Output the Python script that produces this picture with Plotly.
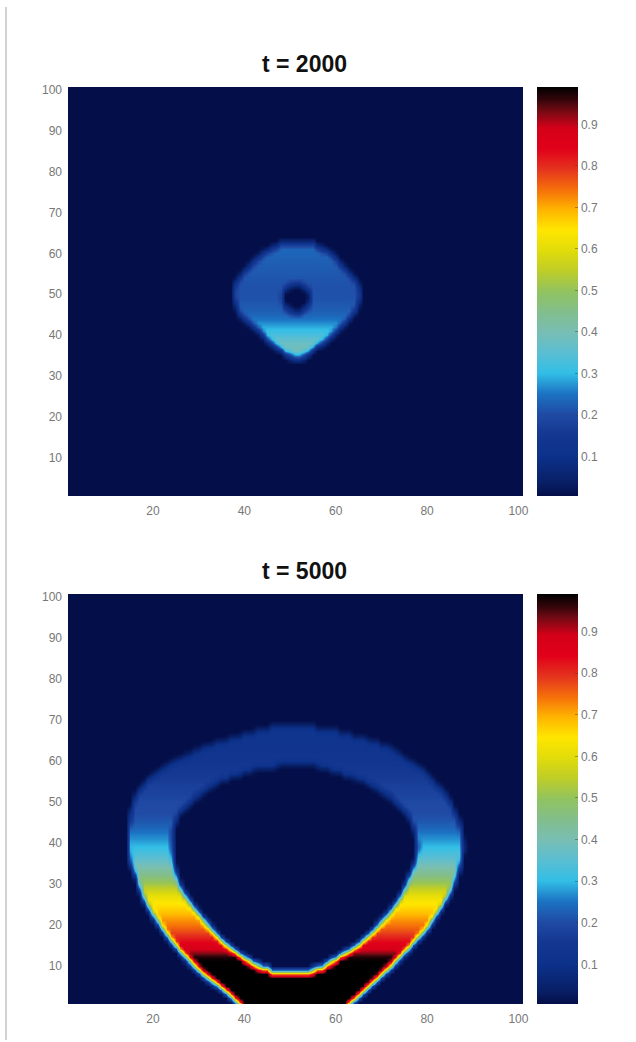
import plotly.graph_objects as go

# Shared axis ticks and colour range
x_ticks = [20, 40, 60, 80, 100]
y_ticks = [10, 20, 30, 40, 50, 60, 70, 80, 90, 100]
cbar_ticks = [0.1, 0.2, 0.3, 0.4, 0.5, 0.6, 0.7, 0.8, 0.9]
z_min = 0.005
z_max = 0.99
titles = ["t = 2000", "t = 5000"]

# t = 2000: rows y = 35..62
p1_rows = list(range(35, 63))
p1_left = [50.0, 48.5, 47.2, 46.0, 44.9, 44.1, 43.3, 42.3, 41.2, 40.1, 39.1, 38.5, 38.2, 37.9, 37.7,
           37.6, 37.7, 37.8, 38.1, 38.8, 39.4, 40.3, 41.2, 42.1, 43.1, 44.1, 45.8, 47.4]
p1_right = [53.0, 54.4, 55.4, 56.9, 58.0, 59.1, 60.0, 60.9, 61.9, 62.7, 63.5, 64.2, 64.6, 64.9, 65.1,
            65.3, 65.1, 64.9, 64.6, 63.8, 63.1, 62.2, 61.3, 60.4, 59.7, 58.7, 57.0, 55.5]
p1_value = [0.37, 0.38, 0.39, 0.38, 0.36, 0.33, 0.31, 0.29, 0.27, 0.25, 0.235, 0.225, 0.22, 0.215, 0.21,
            0.21, 0.21, 0.21, 0.21, 0.215, 0.22, 0.22, 0.225, 0.225, 0.23, 0.235, 0.235, 0.23]
p1_hole_rows = [46, 47, 48, 49, 50, 51, 52]
p1_hole_left = [50.0, 48.8, 48.4, 48.3, 48.3, 48.6, 49.8]
p1_hole_right = [52.6, 53.8, 54.3, 54.4, 54.4, 54.0, 52.8]

# t = 5000: rows y = 0..68
p2_rows = list(range(0, 69))
p2_left = [39.2, 38.3, 37.4, 36.5, 35.5, 34.4, 33.2, 32.0, 30.9, 29.9, 29.0, 28.0, 27.2, 26.3,
           25.5, 24.7, 24.0, 23.3, 22.6, 22.0, 21.4, 20.7, 20.1, 19.6, 19.1, 18.6, 18.1, 17.7,
           17.4, 17.1, 16.7, 16.5, 16.1, 15.8, 15.4, 15.0, 14.9, 14.7, 14.6, 14.5, 14.5, 14.5,
           14.5, 14.5, 14.6, 14.8, 14.9, 15.0, 15.2, 15.5, 15.7, 15.9, 16.5, 17.2, 17.9, 18.5,
           19.6, 20.8, 22.0, 23.2, 24.9, 26.9, 28.8, 30.8, 33.3, 36.3, 39.3, 42.3, 45.5]
p2_right = [62.5, 63.5, 64.5, 65.4, 66.4, 67.3, 68.3, 69.3, 70.2, 71.1, 72.1, 73.0, 73.9, 74.8,
            75.8, 76.6, 77.4, 78.2, 79.0, 79.8, 80.5, 81.1, 81.7, 82.4, 82.9, 83.5, 84.0, 84.6,
            85.0, 85.4, 85.8, 86.1, 86.4, 86.7, 86.9, 87.2, 87.4, 87.5, 87.7, 87.7, 87.7, 87.6,
            87.5, 87.4, 87.2, 86.9, 86.6, 86.2, 85.8, 85.4, 85.0, 84.4, 83.8, 83.0, 82.0, 81.2,
            80.4, 79.6, 78.7, 77.3, 75.8, 74.6, 73.2, 71.9, 69.5, 66.8, 63.5, 60.5, 55.5]
p2_value = [0.99, 0.99, 0.99, 0.99, 0.99, 0.99, 0.99, 0.99, 0.99, 0.99, 0.99, 0.99, 0.99, 0.92,
            0.88, 0.86, 0.83, 0.81, 0.78, 0.76, 0.74, 0.72, 0.70, 0.68, 0.66, 0.65, 0.63, 0.61,
            0.58, 0.55, 0.52, 0.48, 0.45, 0.43, 0.41, 0.38, 0.36, 0.34, 0.32, 0.30, 0.29, 0.27,
            0.26, 0.24, 0.23, 0.22, 0.21, 0.20, 0.20, 0.20, 0.20, 0.19, 0.18, 0.18, 0.17, 0.17,
            0.16, 0.16, 0.15, 0.15, 0.14, 0.14, 0.14, 0.13, 0.13, 0.13, 0.13, 0.13, 0.13]
p2_hole_rows = list(range(9, 60))
p2_hole_left = [45.5, 43.0, 41.2, 39.8, 38.5, 37.2, 36.2, 35.3, 34.4, 33.6, 32.8, 32.0, 31.2,
                30.4, 29.7, 29.0, 28.3, 27.7, 27.1, 26.6, 26.1, 25.7, 25.3, 25.0, 24.8, 24.6,
                24.4, 24.3, 24.3, 24.2, 24.2, 24.2, 24.2, 24.2, 24.2, 24.5, 24.8, 25.1, 25.4,
                26.3, 27.2, 28.1, 29.0, 30.3, 31.6, 33.0, 34.3, 36.5, 39.2, 41.8, 47.0]
p2_hole_right = [55.0, 57.4, 58.9, 60.4, 61.9, 63.4, 64.7, 65.6, 66.6, 67.6, 68.5, 69.3, 70.2,
                 71.0, 71.7, 72.3, 73.0, 73.6, 74.1, 74.6, 75.0, 75.4, 75.8, 76.2, 76.6, 77.0,
                 77.3, 77.5, 77.6, 77.7, 77.8, 77.7, 77.5, 77.4, 77.3, 77.0, 76.5, 76.1, 75.7,
                 74.8, 73.9, 73.0, 72.1, 70.8, 69.3, 67.9, 66.4, 64.1, 61.5, 58.8, 56.0]

colorscale = [
    [0.00, "rgb(4,14,72)"], [0.03, "rgb(8,30,100)"], [0.10, "rgb(12,50,140)"],
    [0.15, "rgb(20,55,145)"], [0.20, "rgb(32,75,165)"], [0.25, "rgb(28,115,195)"],
    [0.30, "rgb(50,190,230)"], [0.35, "rgb(90,190,210)"], [0.40, "rgb(120,190,180)"],
    [0.45, "rgb(130,190,140)"], [0.50, "rgb(145,195,95)"], [0.55, "rgb(190,205,40)"],
    [0.60, "rgb(225,220,10)"], [0.65, "rgb(255,230,0)"], [0.70, "rgb(255,180,0)"],
    [0.75, "rgb(245,110,10)"], [0.80, "rgb(228,50,30)"], [0.85, "rgb(225,0,25)"],
    [0.90, "rgb(212,0,25)"], [0.94, "rgb(120,10,20)"], [0.97, "rgb(50,5,10)"],
    [1.00, "rgb(0,0,0)"],
]


def overlap(c, a, b):
    return max(0.0, min(c + 0.5, b) - max(c - 0.5, a))


def soften_rows(z):
    # Light vertical softening, matching the low-resolution look of the source image.
    out = [row[:] for row in z]
    for j in range(1, len(z) - 1):
        out[j] = [0.25 * p + 0.5 * q + 0.25 * r for p, q, r in zip(z[j - 1], z[j], z[j + 1])]
    return out


def grid(rows, left, right, value, hole_rows, hole_left, hole_right):
    xs = list(range(1, 103))
    ys = list(range(0, 103))
    holes = dict(zip(hole_rows, zip(hole_left, hole_right)))
    z = [[z_min] * len(xs) for _ in ys]
    for r, a, b, v in zip(rows, left, right, value):
        for i, c in enumerate(xs):
            cover = overlap(c, a, b)
            if r in holes:
                cover -= overlap(c, holes[r][0], holes[r][1])
            z[ys.index(r)][i] = z_min + (v - z_min) * cover
    return xs, ys, soften_rows(z)


panels = [
    grid(p1_rows, p1_left, p1_right, p1_value, p1_hole_rows, p1_hole_left, p1_hole_right),
    grid(p2_rows, p2_left, p2_right, p2_value, p2_hole_rows, p2_hole_left, p2_hole_right),
]

W, H = 636, 1042
tops = [87, 594]
bottoms = [496, 1004]
tick_font = dict(family="Liberation Sans", size=12, color="#777777")

fig = go.Figure()
for k, (xs, ys, z) in enumerate(panels):
    suffix = "" if k == 0 else "2"
    fig.add_trace(go.Heatmap(
        x=xs, y=ys, z=z, xaxis="x" + suffix, yaxis="y" + suffix,
        zmin=z_min, zmax=z_max, zsmooth="best", colorscale=colorscale, hoverinfo="skip",
        colorbar=dict(
            x=537 / W, xanchor="left", xpad=0, ypad=0, thickness=41, thicknessmode="pixels",
            len=(bottoms[k] - tops[k]) / H, lenmode="fraction",
            y=1 - (tops[k] + bottoms[k]) / 2 / H, yanchor="middle",
            tickvals=cbar_ticks, ticks="inside", ticklen=3, tickcolor="rgba(60,60,60,0.45)",
            tickfont=tick_font, outlinewidth=0, borderwidth=0,
        ),
    ))

axis_x = dict(range=[1.4, 101], tickvals=x_ticks, tickfont=tick_font, showgrid=False,
              zeroline=False, showline=False, ticks="", ticklabelstandoff=6)
axis_y = dict(range=[0.6, 100.7], tickvals=y_ticks, tickfont=tick_font, showgrid=False,
              zeroline=False, showline=False, ticks="", ticklabelstandoff=5)

fig.update_layout(
    width=W, height=H, margin=dict(l=0, r=0, t=0, b=0, autoexpand=False),
    paper_bgcolor="white", plot_bgcolor="rgb(4,14,72)", showlegend=False,
    xaxis=dict(domain=[68 / W, 523 / W], anchor="y", **axis_x),
    yaxis=dict(domain=[1 - bottoms[0] / H, 1 - tops[0] / H], anchor="x", **axis_y),
    xaxis2=dict(domain=[68 / W, 523 / W], anchor="y2", **axis_x),
    yaxis2=dict(domain=[1 - bottoms[1] / H, 1 - tops[1] / H], anchor="x2", **axis_y),
    annotations=[
        dict(text="<b>%s</b>" % titles[k], x=304 / W, y=1 - yy / H, xref="paper", yref="paper",
             xanchor="center", yanchor="middle", showarrow=False,
             font=dict(family="Liberation Sans", size=23, color="#111111"))
        for k, yy in enumerate([64, 571])
    ],
    shapes=[dict(type="line", xref="paper", yref="paper", x0=6 / W, x1=6 / W,
                 y0=1 - 1040 / H, y1=1 - 7 / H, line=dict(color="#d2d2d2", width=2))],
)

fig.write_html("out.html", config={"displayModeBar": False},
               post_script="document.body.style.margin='0';")
